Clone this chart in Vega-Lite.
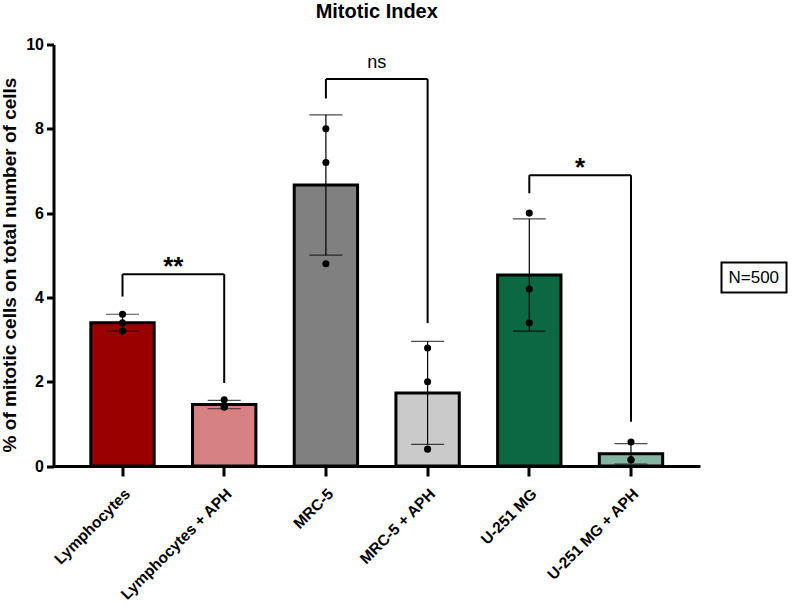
{
  "$schema": "https://vega.github.io/schema/vega-lite/v6.json",
  "autosize": "none",
  "width": 646.5,
  "height": 421.5,
  "padding": {"left": 53.5, "top": 44.5, "right": 96, "bottom": 139},
  "background": "white",
  "title": {"text": "Mitotic Index", "fontSize": 20, "fontWeight": "bold", "font": "Liberation Sans", "color": "black", "anchor": "middle", "offset": 15},
  "datasets": {
    "pts": [
      {"group": "Lymphocytes", "value": 3.6},
      {"group": "Lymphocytes", "value": 3.4},
      {"group": "Lymphocytes", "value": 3.2},
      {"group": "Lymphocytes + APH", "value": 1.57},
      {"group": "Lymphocytes + APH", "value": 1.4},
      {"group": "Lymphocytes + APH", "value": 1.4},
      {"group": "MRC-5", "value": 8.0},
      {"group": "MRC-5", "value": 7.2},
      {"group": "MRC-5", "value": 4.8},
      {"group": "MRC-5 + APH", "value": 2.8},
      {"group": "MRC-5 + APH", "value": 2.0},
      {"group": "MRC-5 + APH", "value": 0.4},
      {"group": "U-251 MG", "value": 6.0},
      {"group": "U-251 MG", "value": 4.2},
      {"group": "U-251 MG", "value": 3.4},
      {"group": "U-251 MG + APH", "value": 0.57},
      {"group": "U-251 MG + APH", "value": 0.15},
      {"group": "U-251 MG + APH", "value": 0.15}
    ],
    "brk": [
      {"g1": "Lymphocytes", "g2": "Lymphocytes + APH", "top": 4.55, "low1": 4.02, "low2": 1.97, "label": "**", "kind": "star"},
      {"g1": "MRC-5", "g2": "MRC-5 + APH", "top": 9.18, "low1": 8.72, "low2": 3.39, "label": "ns", "kind": "ns"},
      {"g1": "U-251 MG", "g2": "U-251 MG + APH", "top": 6.9, "low1": 6.47, "low2": 1.05, "label": "*", "kind": "star"}
    ]
  },
  "layer": [
    {
      "data": {"name": "pts"},
      "mark": {"type": "bar", "strokeWidth": 3},
      "encoding": {
        "x": {"field": "group", "type": "nominal", "title": null,
              "scale": {"domain": ["Lymphocytes", "Lymphocytes + APH", "MRC-5", "MRC-5 + APH", "U-251 MG", "U-251 MG + APH"], "paddingInner": 0.377, "paddingOuter": 0.367},
              "axis": {"labelAngle": -45, "labelFontSize": 15.5, "labelFontWeight": "bold", "labelFont": "Liberation Sans", "labelColor": "black", "labelLimit": 400, "domainColor": "black", "domainWidth": 3, "tickColor": "black", "tickWidth": 3, "tickSize": 10, "labelPadding": 10}},
        "y": {"aggregate": "mean", "field": "value", "type": "quantitative",
              "title": "% of mitotic cells on total number of cells",
              "scale": {"domain": [0, 10], "nice": false},
              "axis": {"values": [0, 2, 4, 6, 8, 10], "grid": false, "labelFontSize": 16, "labelFontWeight": "bold", "labelFont": "Liberation Sans", "labelColor": "black", "domainColor": "black", "domainWidth": 3, "tickColor": "black", "tickWidth": 3, "tickSize": 7, "labelPadding": 3, "titleFontSize": 19, "titleFontWeight": "bold", "titleFont": "Liberation Sans", "titleColor": "black", "titlePadding": 6, "titleY": 220}},
        "fill": {"field": "group", "type": "nominal", "legend": null,
                 "scale": {"domain": ["Lymphocytes", "Lymphocytes + APH", "MRC-5", "MRC-5 + APH", "U-251 MG", "U-251 MG + APH"],
                           "range": ["#9b0000", "#d68282", "#808080", "#cacaca", "#0b6843", "#85b4a0"]}},
        "stroke": {"datum": "N=500", "type": "nominal", "scale": {"range": ["black"]},
                   "legend": {"title": "N=500", "values": [], "orient": "none", "legendX": 668, "legendY": 218, "titleFontSize": 17, "titleFont": "Liberation Sans", "titleFontWeight": "normal", "titleColor": "black", "titlePadding": 0, "padding": 7, "strokeColor": "black"}}
      }
    },
    {
      "data": {"name": "pts"},
      "mark": {"type": "errorbar", "extent": "stdev", "ticks": {"size": 33, "color": "black", "thickness": 1.2}, "rule": {"color": "black", "strokeWidth": 1.2}},
      "encoding": {
        "x": {"field": "group", "type": "nominal"},
        "y": {"field": "value", "type": "quantitative", "title": "% of mitotic cells on total number of cells"}
      }
    },
    {
      "data": {"name": "pts"},
      "mark": {"type": "point", "filled": true, "color": "black", "size": 50, "opacity": 1},
      "encoding": {
        "x": {"field": "group", "type": "nominal"},
        "y": {"field": "value", "type": "quantitative", "title": "% of mitotic cells on total number of cells"}
      }
    },
    {
      "data": {"name": "brk"},
      "mark": {"type": "rule", "color": "black", "strokeWidth": 2},
      "encoding": {
        "x": {"field": "g1", "type": "nominal"},
        "x2": {"field": "g2"},
        "y": {"field": "top", "type": "quantitative", "title": "% of mitotic cells on total number of cells"}
      }
    },
    {
      "data": {"name": "brk"},
      "mark": {"type": "rule", "color": "black", "strokeWidth": 2},
      "encoding": {
        "x": {"field": "g1", "type": "nominal"},
        "y": {"field": "top", "type": "quantitative", "title": "% of mitotic cells on total number of cells"},
        "y2": {"field": "low1"}
      }
    },
    {
      "data": {"name": "brk"},
      "mark": {"type": "rule", "color": "black", "strokeWidth": 2},
      "encoding": {
        "x": {"field": "g2", "type": "nominal"},
        "y": {"field": "top", "type": "quantitative", "title": "% of mitotic cells on total number of cells"},
        "y2": {"field": "low2"}
      }
    },
    {
      "data": {"name": "brk"},
      "transform": [{"filter": "datum.kind === 'star'"}],
      "mark": {"type": "text", "font": "Liberation Sans", "fontSize": 26, "fontWeight": "bold", "color": "black", "baseline": "alphabetic", "align": "center", "dy": 1},
      "encoding": {
        "x": {"field": "g1", "type": "nominal", "bandPosition": 1.3026},
        "y": {"field": "top", "type": "quantitative", "title": "% of mitotic cells on total number of cells"},
        "text": {"field": "label"}
      }
    },
    {
      "data": {"name": "brk"},
      "transform": [{"filter": "datum.kind === 'ns'"}],
      "mark": {"type": "text", "font": "Liberation Sans", "fontSize": 18, "color": "black", "baseline": "alphabetic", "align": "center", "dy": -11},
      "encoding": {
        "x": {"field": "g1", "type": "nominal", "bandPosition": 1.3026},
        "y": {"field": "top", "type": "quantitative", "title": "% of mitotic cells on total number of cells"},
        "text": {"field": "label"}
      }
    }
  ],
  "config": {
    "view": {"stroke": null},
    "legend": {"strokeWidth": 2}
  }
}
